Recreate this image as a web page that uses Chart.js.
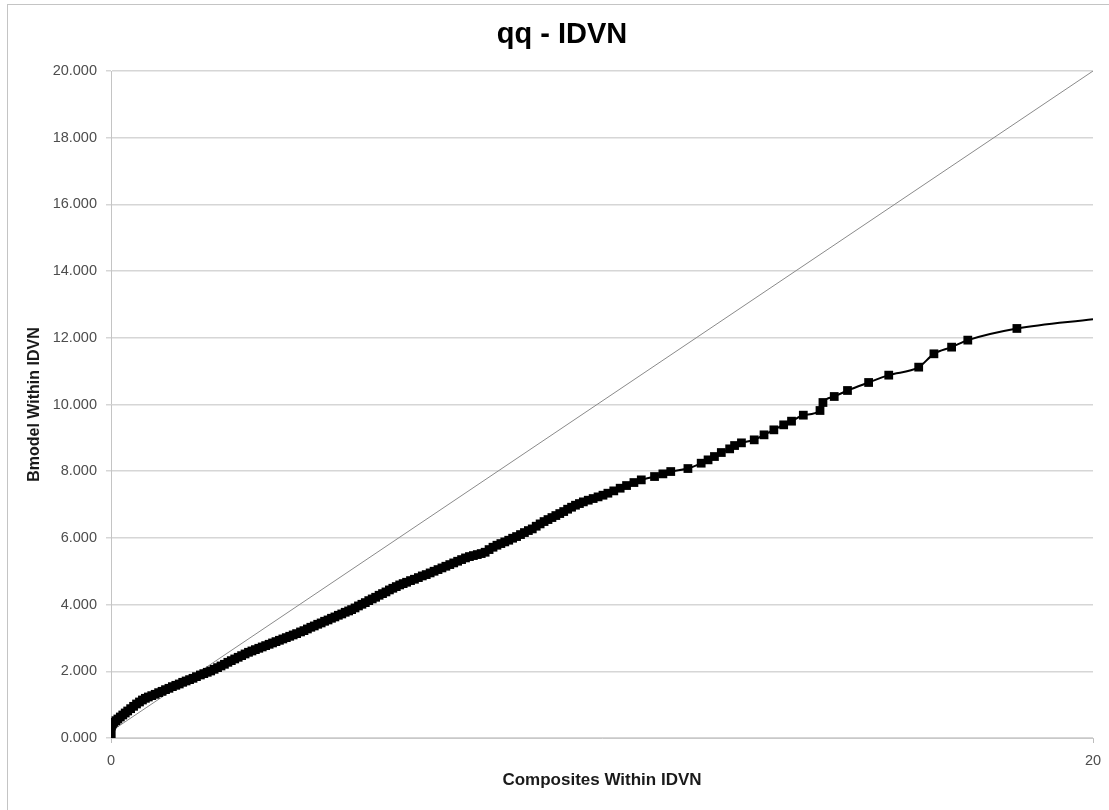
<!DOCTYPE html>
<html>
<head>
<meta charset="utf-8">
<script src="https://cdn.jsdelivr.net/npm/chart.js@4.4.1/dist/chart.umd.min.js"></script>
<style>
  html, body { margin: 0; padding: 0; background: #fff; overflow: hidden; }
  #frame { position: absolute; left: 7px; top: 4px; width: 1130px; height: 820px;
           border-left: 1px solid #c4c4c4; border-top: 1px solid #c4c4c4; }
  #qqChart { position: absolute; left: 0; top: 0; }
</style>
</head>
<body>
<div id="frame"></div>
<canvas id="qqChart" width="1124" height="810"></canvas>
<script>
// quantiles (dense band estimated along its centre)
const compositeQ = [
  0.00, 0.00, 0.00, 0.01, 0.03, 0.06, 0.10, 0.14, 0.19, 0.24,
  0.29, 0.34, 0.40, 0.46, 0.52, 0.58, 0.64, 0.70, 0.76, 0.83,
  0.90, 0.97, 1.04, 1.11, 1.18, 1.25, 1.32, 1.39, 1.46, 1.53,
  1.60, 1.67, 1.74, 1.82, 1.89, 1.96, 2.03, 2.10, 2.17, 2.24,
  2.31, 2.38, 2.45, 2.52, 2.59, 2.66, 2.73, 2.80, 2.87, 2.94,
  3.01, 3.08, 3.15, 3.22, 3.29, 3.36, 3.43, 3.50, 3.57, 3.64,
  3.71, 3.78, 3.86, 3.93, 4.00, 4.07, 4.14, 4.21, 4.28, 4.35,
  4.42, 4.49, 4.56, 4.63, 4.70, 4.77, 4.84, 4.90, 4.97, 5.04,
  5.11, 5.18, 5.25, 5.32, 5.39, 5.46, 5.53, 5.60, 5.67, 5.74,
  5.81, 5.88, 5.95, 6.02, 6.10, 6.18, 6.26, 6.34, 6.42, 6.50,
  6.58, 6.66, 6.74, 6.82, 6.90, 6.98, 7.06, 7.14, 7.22, 7.30,
  7.38, 7.46, 7.54, 7.62, 7.70, 7.78, 7.86, 7.94, 8.02, 8.10,
  8.18, 8.26, 8.34, 8.42, 8.50, 8.58, 8.66, 8.74, 8.82, 8.90,
  8.98, 9.06, 9.14, 9.22, 9.30, 9.38, 9.46, 9.54, 9.62, 9.72,
  9.82, 9.92, 10.02, 10.12, 10.24, 10.37, 10.50, 10.65, 10.80, 11.07,
  11.24, 11.40, 11.75, 12.02, 12.16, 12.29, 12.43, 12.60, 12.70, 12.84,
  13.10, 13.30, 13.50, 13.70, 13.86, 14.10, 14.44, 14.50, 14.73, 15.00,
  15.43, 15.84, 16.45, 16.76, 17.12, 17.45, 18.45, 20.00
];
const bmodelQ = [
  0.00, 0.12, 0.26, 0.36, 0.42, 0.47, 0.52, 0.57, 0.63, 0.69,
  0.75, 0.81, 0.88, 0.95, 1.02, 1.08, 1.14, 1.19, 1.23, 1.27,
  1.31, 1.36, 1.40, 1.45, 1.49, 1.54, 1.58, 1.62, 1.67, 1.71,
  1.75, 1.79, 1.84, 1.89, 1.93, 1.97, 2.01, 2.06, 2.11, 2.16,
  2.21, 2.27, 2.32, 2.37, 2.42, 2.47, 2.52, 2.57, 2.61, 2.65,
  2.69, 2.73, 2.77, 2.81, 2.85, 2.89, 2.93, 2.97, 3.01, 3.05,
  3.09, 3.13, 3.18, 3.22, 3.27, 3.32, 3.36, 3.41, 3.45, 3.50,
  3.54, 3.59, 3.63, 3.68, 3.72, 3.77, 3.81, 3.85, 3.90, 3.96,
  4.01, 4.06, 4.12, 4.17, 4.22, 4.28, 4.33, 4.38, 4.44, 4.49,
  4.54, 4.59, 4.63, 4.67, 4.72, 4.76, 4.81, 4.86, 4.90, 4.95,
  5.00, 5.05, 5.10, 5.15, 5.20, 5.25, 5.30, 5.35, 5.40, 5.44,
  5.47, 5.50, 5.53, 5.57, 5.65, 5.72, 5.78, 5.83, 5.88, 5.93,
  5.99, 6.04, 6.10, 6.16, 6.22, 6.27, 6.35, 6.42, 6.49, 6.55,
  6.61, 6.67, 6.73, 6.79, 6.86, 6.92, 6.98, 7.03, 7.08, 7.13,
  7.18, 7.23, 7.28, 7.34, 7.41, 7.49, 7.57, 7.66, 7.74, 7.84,
  7.92, 7.99, 8.08, 8.24, 8.34, 8.44, 8.56, 8.67, 8.77, 8.85,
  8.94, 9.09, 9.24, 9.39, 9.50, 9.68, 9.82, 10.06, 10.24, 10.42,
  10.66, 10.88, 11.12, 11.52, 11.72, 11.93, 12.28, 12.56
];
// reference line (runs to the top-right corner)
const refX = [0, 20];
const refY = [0.2, 20];

const yTickLabels = ["0.000", "2.000", "4.000", "6.000", "8.000", "10.000",
  "12.000", "14.000", "16.000", "18.000", "20.000"];

const qqPoints = compositeQ.map((x, i) => ({ x: x, y: bmodelQ[i] }));
const refPoints = refX.map((x, i) => ({ x: x, y: refY[i] }));
const lastIdx = qqPoints.length - 1;

const fam = "'Liberation Sans', Arial, sans-serif";

new Chart(document.getElementById("qqChart"), {
    type: "scatter",
    data: {
        datasets: [{
            data: qqPoints,
            showLine: true,
            borderColor: "#000",
            backgroundColor: "#000",
            borderWidth: 2,
            cubicInterpolationMode: "monotone",
            pointStyle: "rect",
            pointRadius: ctx => ctx.dataIndex === lastIdx ? 0 : 6.2,
            pointBorderWidth: 0,
            order: 1
        }, {
            data: refPoints,
            showLine: true,
            borderColor: "#8a8a8a",
            borderWidth: 1,
            pointRadius: 0,
            order: 2
        }]
    },
    options: {
        responsive: false,
        animation: false,
        layout: { padding: 0 },
        plugins: {
            legend: { display: false },
            tooltip: { enabled: false },
            title: {
                display: true,
                text: "qq - IDVN",
                color: "#000",
                font: { family: fam, size: 29, weight: "bold" },
                padding: { top: 18, bottom: 18.2 }
            }
        },
        scales: {
            x: {
                type: "linear",
                min: 0,
                max: 20,
                ticks: {
                    stepSize: 20,
                    color: "#4d4d4d",
                    padding: 9,
                    font: { family: fam, size: 14.5 }
                },
                grid: { drawOnChartArea: false, tickLength: 5, color: "#bdbdbd" },
                border: { color: "#c8c8c8" },
                title: {
                    display: true,
                    text: "Composites Within IDVN",
                    color: "#1a1a1a",
                    font: { family: fam, size: 17, weight: "bold" },
                    padding: { top: 0, bottom: 19.2 }
                },
                afterFit: s => { s.height = 72; }
            },
            y: {
                min: 0,
                max: 20,
                ticks: {
                    stepSize: 2,
                    color: "#4d4d4d",
                    padding: 9,
                    font: { family: fam, size: 14.5 },
                    callback: (v, i) => yTickLabels[i]
                },
                grid: { color: "#d6d6d6", lineWidth: 1.5, tickLength: 5 },
                border: { color: "#c4c4c4" },
                title: {
                    display: true,
                    text: "Bmodel Within IDVN",
                    color: "#1a1a1a",
                    font: { family: fam, size: 16, weight: "bold" },
                    padding: { top: 25, bottom: 0 }
                },
                afterFit: s => { s.width = 111; }
            },
            // empty right-hand spacer so the plot ends where the reference does
            yRight: {
                position: "right",
                display: true,
                ticks: { display: false },
                grid: { display: false },
                border: { display: false },
                afterFit: s => { s.width = 31; }
            }
        }
    }
});
</script>
</body>
</html>
